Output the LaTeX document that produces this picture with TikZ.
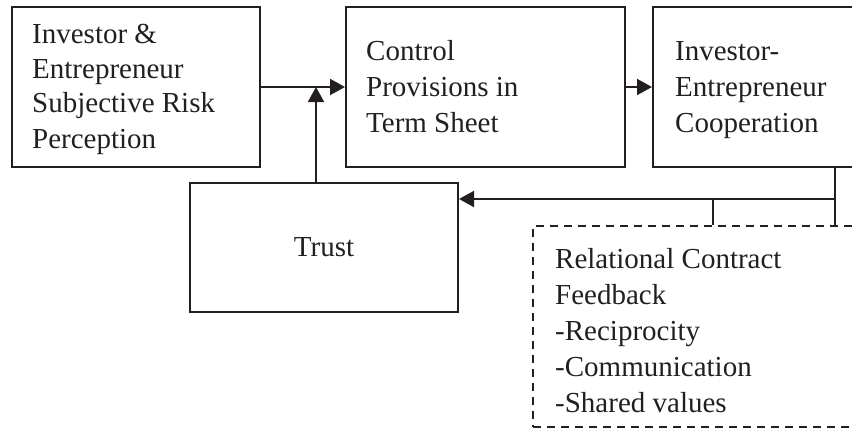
\documentclass[tikz,border=0pt]{standalone}
\usepackage{fontspec}
\setmainfont{Liberation Serif}
\usetikzlibrary{arrows.meta}
\definecolor{ink}{HTML}{231F20}
\tikzset{
  box/.style={draw=ink, line width=2pt, inner sep=0pt, rectangle},
  dbox/.style={box, dash pattern=on 8pt off 6pt},
  lbl/.style={anchor=base west, inner sep=0pt, text=ink, font=\fontsize{29}{35}\selectfont},
  lblw/.style={lbl, font=\fontsize{29}{36}\selectfont},
  link/.style={draw=ink, line width=2pt},
  arr/.style={link, -{Triangle[length=15pt,width=16pt]}}
}
\newcommand{\lines}[1]{\begin{tabular}[t]{@{}l@{}}#1\end{tabular}}
\begin{document}
\begin{tikzpicture}[x=1pt,y=-1pt]
\useasboundingbox (0,0) rectangle (852,439);
\clip (0,0) rectangle (852,439);
% boxes
\node[box, minimum width=248pt, minimum height=160pt] (b1) at (136,87) {};
\node[box, minimum width=279pt, minimum height=160pt] (b2) at (485.5,87) {};
\node[box, minimum width=247pt, minimum height=160pt] (b3) at (776.5,87) {};
\node[box, minimum width=268pt, minimum height=129pt, text=ink, font=\fontsize{29}{35}\selectfont] (trust) at (324,247.5) {Trust};
\node[dbox, minimum width=367pt, minimum height=201pt] (rel) at (716.5,326.5) {};
% texts
\node[lbl] (t1) at (32,43) {\lines{Investor \&\\Entrepreneur\\Subjective Risk\\Perception}};
\node[lblw] (t2) at (366,60) {\lines{Control\\Provisions in\\Term Sheet}};
\node[lblw] (t3) at (675,60) {\lines{Investor-\\Entrepreneur\\Cooperation}};
\node[lblw] (t4) at (555,268) {\lines{Relational Contract\\Feedback\\-Reciprocity\\-Communication\\-Shared values}};
% connectors
\coordinate (j1) at (316,87);
\coordinate (fa) at (835,199);
\coordinate (fb) at (713,199);
\draw[arr] (b1) -- (b2);
\draw[arr] (b2) -- (b3);
\draw[arr] (trust.north -| j1) -- (j1);
\draw[arr] (b3.south -| fa) -- (fa) -- (trust.east |- fa);
\draw[link] (fa) -- (rel.north -| fa);
\draw[link] (fb) -- (rel.north -| fb);
\end{tikzpicture}
\end{document}
